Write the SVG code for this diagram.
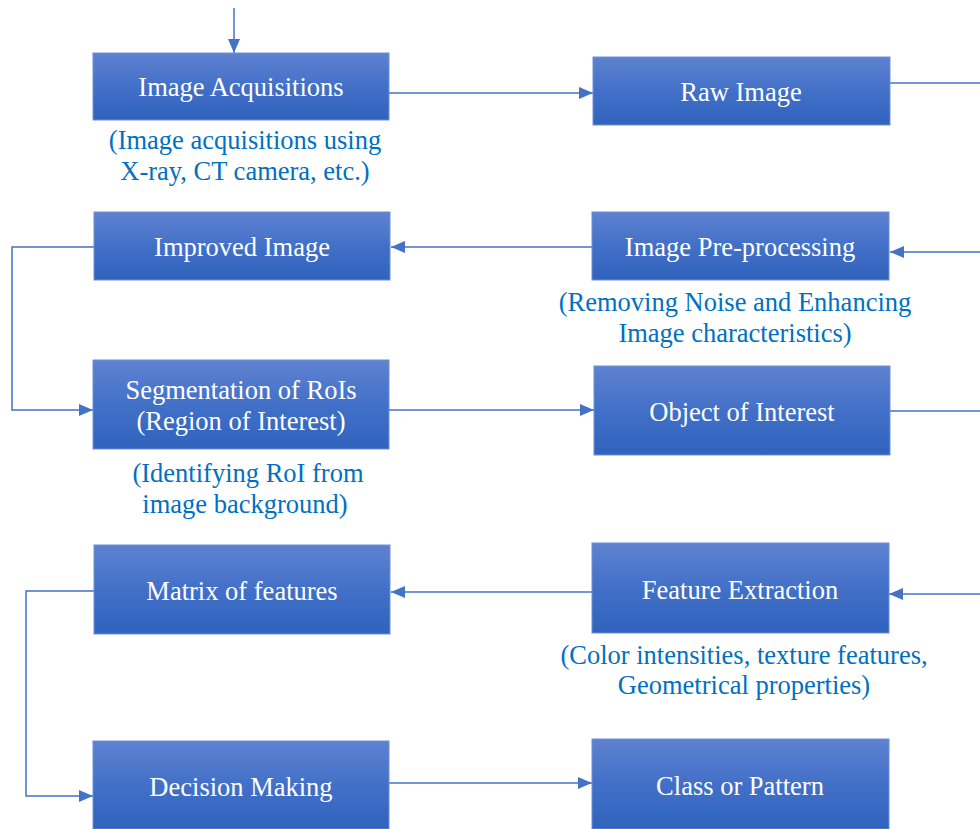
<svg xmlns="http://www.w3.org/2000/svg" width="980" height="829" viewBox="0 0 980 829">
<style>
.box{fill:url(#g);stroke:#6f8fd6;stroke-width:1}
.lbl{fill:#ffffff;text-anchor:middle}
.cap{fill:#0070c0;text-anchor:middle}
.ln{fill:none;stroke:#4472c4;stroke-width:1.5}
</style>
<defs>
<linearGradient id="g" x1="0" y1="0" x2="0" y2="1">
<stop offset="0" stop-color="#5f82d0"/>
<stop offset="0.5" stop-color="#4270c8"/>
<stop offset="1" stop-color="#3063bc"/>
</linearGradient>
<marker id="ah" markerWidth="14" markerHeight="12" refX="14" refY="6" orient="auto" markerUnits="userSpaceOnUse">
<path d="M0,0 L14,6 L0,12 Z" fill="#4472c4"/>
</marker>
</defs>
<g id="connectors">
<line class="ln" x1="234" y1="8" x2="234" y2="53" marker-end="url(#ah)"/>
<line class="ln" x1="389" y1="93" x2="593" y2="93" marker-end="url(#ah)"/>
<line class="ln" x1="890" y1="83" x2="980" y2="83"/>
<line class="ln" x1="980" y1="252" x2="890" y2="252" marker-end="url(#ah)"/>
<line class="ln" x1="592" y1="247" x2="391" y2="247" marker-end="url(#ah)"/>
<polyline class="ln" points="94,247 12,247 12,410 93,410" marker-end="url(#ah)"/>
<line class="ln" x1="389" y1="410" x2="594" y2="410" marker-end="url(#ah)"/>
<line class="ln" x1="890" y1="411" x2="980" y2="411"/>
<line class="ln" x1="980" y1="594" x2="889" y2="594" marker-end="url(#ah)"/>
<line class="ln" x1="592" y1="592" x2="391" y2="592" marker-end="url(#ah)"/>
<polyline class="ln" points="94,591 26,591 26,796 93,796" marker-end="url(#ah)"/>
<line class="ln" x1="389" y1="783" x2="592" y2="783" marker-end="url(#ah)"/>
</g>
<g id="acq">
<rect class="box" x="93" y="53" width="296" height="67"/>
<text class="lbl" font-family="Liberation Serif" font-size="26.5" x="241" y="96">Image Acquisitions</text>
<text class="cap" font-family="Liberation Serif" font-size="26.5" x="245" y="149">(Image acquisitions using</text>
<text class="cap" font-family="Liberation Serif" font-size="26.5" x="245" y="180">X-ray, CT camera, etc.)</text>
</g>
<g id="raw">
<rect class="box" x="593" y="57" width="297" height="68"/>
<text class="lbl" font-family="Liberation Serif" font-size="26.5" x="741" y="101">Raw Image</text>
</g>
<g id="improved">
<rect class="box" x="94" y="212" width="296" height="68"/>
<text class="lbl" font-family="Liberation Serif" font-size="26.5" x="242" y="256">Improved Image</text>
</g>
<g id="pre">
<rect class="box" x="592" y="212" width="297" height="68"/>
<text class="lbl" font-family="Liberation Serif" font-size="26.5" x="740" y="256">Image Pre-processing</text>
<text class="cap" font-family="Liberation Serif" font-size="26.5" x="735" y="311">(Removing Noise and Enhancing</text>
<text class="cap" font-family="Liberation Serif" font-size="26.5" x="735" y="342">Image characteristics)</text>
</g>
<g id="seg">
<rect class="box" x="93" y="360" width="296" height="89"/>
<text class="lbl" font-family="Liberation Serif" font-size="26.5" x="241" y="399">Segmentation of RoIs</text>
<text class="lbl" font-family="Liberation Serif" font-size="26.5" x="241" y="430">(Region of Interest)</text>
<text class="cap" font-family="Liberation Serif" font-size="26.5" x="248" y="482">(Identifying RoI from</text>
<text class="cap" font-family="Liberation Serif" font-size="26.5" x="245" y="513">image background)</text>
</g>
<g id="obj">
<rect class="box" x="594" y="366" width="296" height="89"/>
<text class="lbl" font-family="Liberation Serif" font-size="26.5" x="742" y="421">Object of Interest</text>
</g>
<g id="matrix">
<rect class="box" x="94" y="545" width="296" height="89"/>
<text class="lbl" font-family="Liberation Serif" font-size="26.5" x="242" y="600">Matrix of features</text>
</g>
<g id="fe">
<rect class="box" x="592" y="543" width="297" height="90"/>
<text class="lbl" font-family="Liberation Serif" font-size="26.5" x="740" y="599">Feature Extraction</text>
<text class="cap" font-family="Liberation Serif" font-size="26.5" x="744" y="664">(Color intensities, texture features,</text>
<text class="cap" font-family="Liberation Serif" font-size="26.5" x="744" y="694">Geometrical properties)</text>
</g>
<g id="decision">
<rect class="box" x="93" y="741" width="296" height="88"/>
<text class="lbl" font-family="Liberation Serif" font-size="26.5" x="241" y="796">Decision Making</text>
</g>
<g id="class">
<rect class="box" x="592" y="739" width="297" height="90"/>
<text class="lbl" font-family="Liberation Serif" font-size="26.5" x="740" y="795">Class or Pattern</text>
</g>
</svg>
